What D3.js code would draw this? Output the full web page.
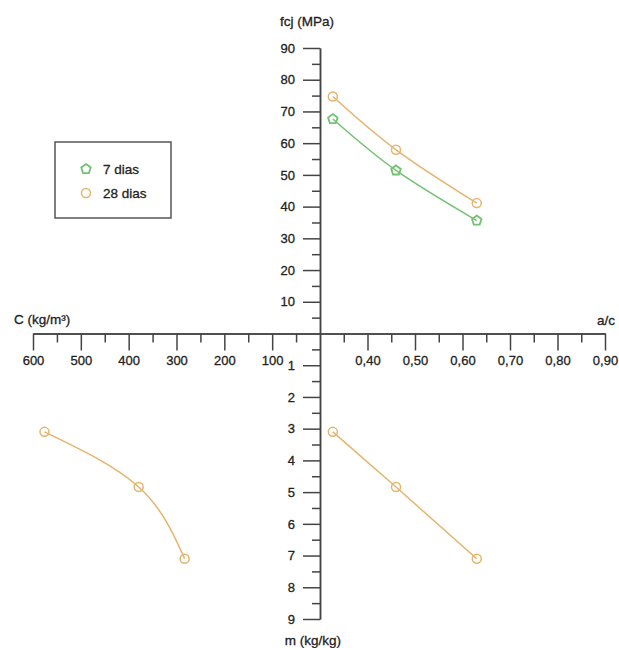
<!doctype html>
<html lang="pt">
<head>
  <meta charset="utf-8">
  <title>Diagrama de dosagem</title>
  <script src="https://cdn.jsdelivr.net/npm/d3@7"></script>
  <style>
    body { margin: 0; background: #fff; }
    svg text { font-family: "Liberation Sans", Arial, sans-serif; fill: #222; stroke: #222; stroke-width: 0.3px; }
  </style>
</head>
<body>
<svg id="chart" width="619" height="648"></svg>
<script>
  //
  // Data
  //

  // a/c for the three mixes
  var acValues = [0.327, 0.46, 0.63]
  // compressive strength fcj (MPa)
  var fc7 = [67.6, 51.4, 35.6]
  var fc28 = [74.7, 57.9, 41.1]
  // dry aggregates / cement m (kg/kg)
  var mValues = [3.1, 4.84, 7.1]
  // cement content C (kg/m3)
  var cValues = [576, 379, 283]

  var seriesNames = ['7 dias', '28 dias']

  var fcTicks = [10, 20, 30, 40, 50, 60, 70, 80, 90]
  var mTicks = [1, 2, 3, 4, 5, 6, 7, 8, 9]
  var cTicks = [100, 200, 300, 400, 500, 600]
  var acTicks = [0.40, 0.50, 0.60, 0.70, 0.80, 0.90]

  //
  // Config
  //

  var colorGreen = '#72c273'
  var colorOrange = '#e6b46c'
  var colorAxis = '#444'

  var svg = d3.select('#chart')
  var ptBr = d3.formatLocale({ decimal: ',', thousands: '.', grouping: [3], currency: ['R$', ''] })
  var fmtAc = ptBr.format('.2f')

  // scales (one origin, four quadrant axes)
  var xAc = d3.scaleLinear().domain([0.30, 0.90]).range([320, 605])
  var xC = d3.scaleLinear().domain([0, 600]).range([320, 33])
  var yF = d3.scaleLinear().domain([0, 90]).range([333.5, 48])
  var yM = d3.scaleLinear().domain([0, 9]).range([333.5, 619])

  function minor(ticks, step) {
    return ticks.map(function (t) { return t - step / 2 })
  }

  function styleAxis(g) {
    g.selectAll('path.domain').attr('stroke', colorAxis).attr('stroke-width', 1.5)
    g.selectAll('.tick line').attr('stroke', colorAxis).attr('stroke-width', 1.5)
    g.selectAll('.tick text').attr('font-size', 13).attr('fill', '#222')
    g.attr('font-family', null)
  }

  //
  // Axes
  //

  // a/c (right, horizontal)
  svg.append('g').attr('transform', 'translate(0,333.5)')
    .call(d3.axisBottom(xAc).tickValues(minor(acTicks, 0.1)).tickSize(9).tickSizeOuter(0).tickFormat(''))
    .call(styleAxis)
  svg.append('g').attr('transform', 'translate(0,333.5)')
    .call(d3.axisBottom(xAc).tickValues(acTicks).tickSize(17).tickSizeOuter(0).tickPadding(5).tickFormat(fmtAc))
    .call(styleAxis)

  // C (left, horizontal)
  svg.append('g').attr('transform', 'translate(0,333.5)')
    .call(d3.axisBottom(xC).tickValues(minor(cTicks, 100)).tickSize(9).tickSizeOuter(0).tickFormat(''))
    .call(styleAxis)
  svg.append('g').attr('transform', 'translate(0,333.5)')
    .call(d3.axisBottom(xC).tickValues(cTicks).tickSize(17).tickSizeOuter(0).tickPadding(5))
    .call(styleAxis)

  // fcj (up)
  svg.append('g').attr('transform', 'translate(320,0)')
    .call(d3.axisLeft(yF).tickValues(minor(fcTicks, 10)).tickSize(8).tickSizeOuter(0).tickFormat(''))
    .call(styleAxis)
  svg.append('g').attr('transform', 'translate(320,0)')
    .call(d3.axisLeft(yF).tickValues(fcTicks).tickSize(17).tickSizeOuter(0).tickPadding(8))
    .call(styleAxis)

  // m (down)
  svg.append('g').attr('transform', 'translate(320,0)')
    .call(d3.axisLeft(yM).tickValues(minor(mTicks, 1)).tickSize(8).tickSizeOuter(0).tickFormat(''))
    .call(styleAxis)
  svg.append('g').attr('transform', 'translate(320,0)')
    .call(d3.axisLeft(yM).tickValues(mTicks).tickSize(17).tickSizeOuter(0).tickPadding(8))
    .call(styleAxis)

  // axis titles
  svg.append('text').attr('x', 307).attr('y', 26).attr('text-anchor', 'middle')
    .attr('font-size', 13.5).text('fcj (MPa)')
  svg.append('text').attr('x', 14).attr('y', 324)
    .attr('font-size', 13.5).text('C (kg/m³)')
  svg.append('text').attr('x', 615).attr('y', 325).attr('text-anchor', 'end')
    .attr('font-size', 13.5).text('a/c')
  svg.append('text').attr('x', 313).attr('y', 645).attr('text-anchor', 'middle')
    .attr('font-size', 13.5).text('m (kg/kg)')

  //
  // Marks
  //

  function pentagon(r) {
    var p = d3.path()
    for (var i = 0; i < 5; i++) {
      var a = -Math.PI / 2 + i * 2 * Math.PI / 5
      if (i === 0) p.moveTo(r * Math.cos(a), r * Math.sin(a))
      else p.lineTo(r * Math.cos(a), r * Math.sin(a))
    }
    p.closePath()
    return p.toString()
  }

  function drawSeries(xs, ys, xScale, yScale, color, shape) {
    var pts = xs.map(function (x, i) { return [xScale(x), yScale(ys[i])] })
    var line = d3.line().curve(d3.curveNatural)
    svg.append('path').attr('d', line(pts))
      .attr('fill', 'none').attr('stroke', color).attr('stroke-width', 1.5)
    var g = svg.append('g')
    pts.forEach(function (p) {
      if (shape === 'pentagon') {
        g.append('path').attr('d', pentagon(5)).attr('transform', 'translate(' + p[0] + ',' + p[1] + ')')
          .attr('fill', 'none').attr('stroke', color).attr('stroke-width', 1.8)
      } else {
        g.append('circle').attr('cx', p[0]).attr('cy', p[1]).attr('r', 4.5)
          .attr('fill', 'none').attr('stroke', color).attr('stroke-width', 1.5)
      }
    })
  }

  drawSeries(acValues, fc28, xAc, yF, colorOrange, 'circle')
  drawSeries(acValues, fc7, xAc, yF, colorGreen, 'pentagon')
  drawSeries(acValues, mValues, xAc, yM, colorOrange, 'circle')
  drawSeries(cValues, mValues, xC, yM, colorOrange, 'circle')

  //
  // Legend
  //

  var legend = svg.append('g')
  legend.append('rect').attr('x', 55).attr('y', 142).attr('width', 116).attr('height', 76)
    .attr('fill', '#fff').attr('stroke', '#555').attr('stroke-width', 1.5)
  seriesNames.forEach(function (name, i) {
    var y = 169 + i * 24
    if (i === 0) {
      legend.append('path').attr('d', pentagon(5)).attr('transform', 'translate(86,' + y + ')')
        .attr('fill', 'none').attr('stroke', colorGreen).attr('stroke-width', 1.8)
    } else {
      legend.append('circle').attr('cx', 86).attr('cy', y).attr('r', 4.5)
        .attr('fill', 'none').attr('stroke', colorOrange).attr('stroke-width', 1.5)
    }
    legend.append('text').attr('x', 103).attr('y', y + 5).attr('font-size', 13.5).text(name)
  })
</script>
</body>
</html>
